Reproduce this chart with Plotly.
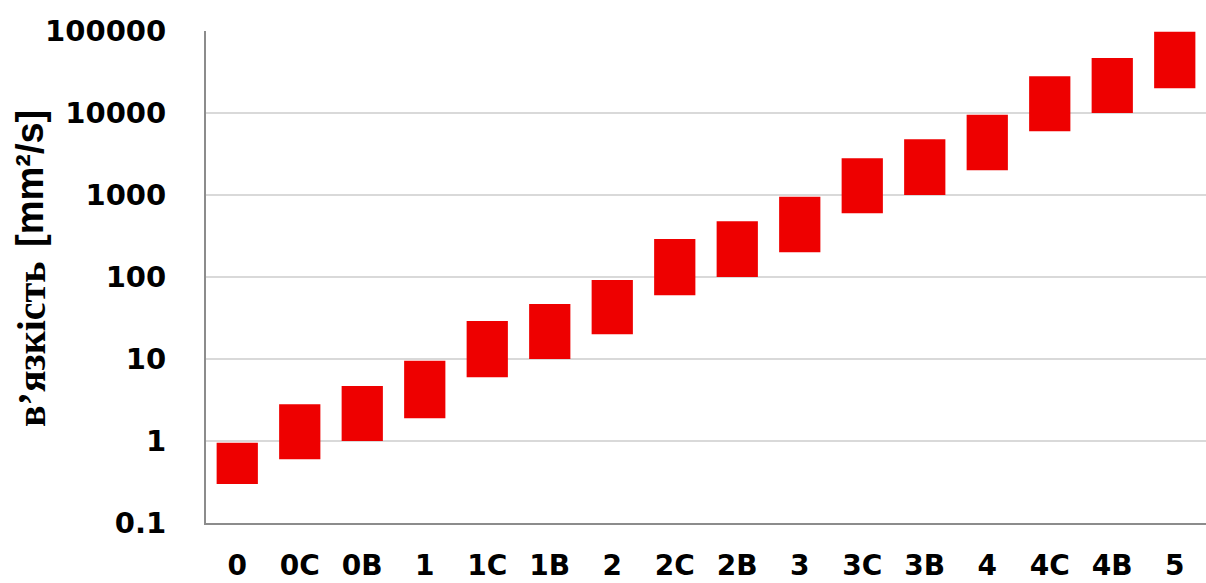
import plotly.graph_objects as go

categories = ["0", "0C", "0B", "1", "1C", "1B", "2", "2C", "2B", "3", "3C", "3B", "4", "4C", "4B", "5"]
low_values = [0.3, 0.6, 1, 1.9, 6, 10, 20, 60, 100, 200, 600, 1000, 2000, 6000, 10000, 20000]
high_values = [0.95, 2.8, 4.7, 9.5, 29, 47, 92, 290, 480, 950, 2800, 4800, 9500, 28000, 47000, 98000]
tick_vals = [0.1, 1, 10, 100, 1000, 10000, 100000]
tick_text = ["0.1", "1", "10", "100", "1000", "10000", "100000"]

heights = [h - l for h, l in zip(high_values, low_values)]

fig = go.Figure()
fig.add_trace(go.Bar(
    x=categories,
    y=heights,
    base=low_values,
    marker=dict(color="#EE0000", line=dict(width=0)),
    showlegend=False,
))

fig.update_layout(
    width=1206, height=583,
    margin=dict(l=206, r=0, t=31, b=60),
    paper_bgcolor="white", plot_bgcolor="white",
    bargap=0.34,
    font=dict(family="DejaVu Sans", size=28, color="black"),
)
fig.update_xaxes(
    type="category", range=[-0.5, 15.5], automargin=False,
    showgrid=False, showline=True, linecolor="#8C8C8C", linewidth=2,
    ticks="", ticklabelstandoff=16,
    tickfont=dict(family="DejaVu Sans", size=28, color="black", weight="bold"),
)
fig.update_yaxes(
    type="log", range=[-1, 5], automargin=False,
    tickvals=tick_vals, ticktext=tick_text,
    showgrid=True, gridcolor="#D9D9D9", gridwidth=1.5,
    showline=True, linecolor="#8C8C8C", linewidth=2,
    ticks="", ticklabelstandoff=32,
    tickfont=dict(family="DejaVu Sans", size=29, color="black", weight="bold"),
    zeroline=False,
)

fig.add_annotation(
    text="[mm²/s]", textangle=-90,
    xref="paper", yref="paper",
    x=(30 - 206) / 1000, y=(523 - 179) / 492,
    xanchor="center", yanchor="middle", showarrow=False,
    font=dict(family="Liberation Sans", size=38, color="black", weight="bold"),
)
fig.add_annotation(
    text="в’язкість", textangle=-90,
    xref="paper", yref="paper",
    x=(31 - 206) / 1000, y=(523 - 345) / 492,
    xanchor="center", yanchor="middle", showarrow=False,
    font=dict(family="Liberation Serif", size=40, color="black", weight="bold"),
)

fig.write_html("out.html")
